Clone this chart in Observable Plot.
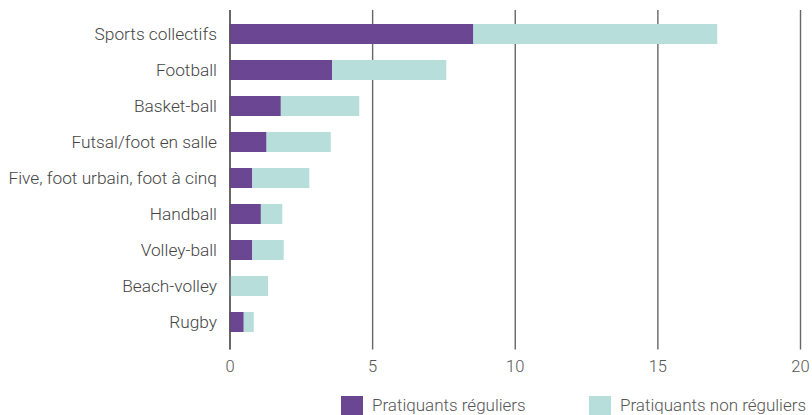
<!DOCTYPE html>
<html>
<head>
<meta charset="utf-8">
<script src="https://cdn.jsdelivr.net/npm/d3@7"></script>
<script src="https://cdn.jsdelivr.net/npm/@observablehq/plot@0.6"></script>
<style>
  body { margin: 0; background: #fff; font-family: Roboto, "Noto Sans", sans-serif; }
  #chart { position: relative; width: 812px; }
  .legend { position: relative; height: 30px; font-size: 17px; font-weight: 300; color: #555; }
  .item { position: absolute; top: 10px; display: flex; align-items: center; }
  .sw { width: 22px; height: 19px; margin-right: 9px; }
</style>
</head>
<body>
<div id="chart"></div>
<script>
const categories = ["Sports collectifs", "Football", "Basket-ball", "Futsal/foot en salle", "Five, foot urbain, foot à cinq", "Handball", "Volley-ball", "Beach-volley", "Rugby"];
const reguliers = [8.55, 3.6, 1.8, 1.3, 0.8, 1.1, 0.8, 0, 0.5];
const nonReguliers = [8.55, 4.0, 2.75, 2.25, 2.0, 0.75, 1.1, 1.35, 0.35];
const seriesNames = ["Pratiquants réguliers", "Pratiquants non réguliers"];
const colors = ["#6b4793", "#b8dedb"];
const xTicks = [0, 5, 10, 15, 20];

const data = [];
categories.forEach((c, i) => {
  data.push({ cat: c, serie: seriesNames[0], v: reguliers[i] });
  data.push({ cat: c, serie: seriesNames[1], v: nonReguliers[i] });
});

const plot = Plot.plot({
  width: 812,
  height: 385,
  marginLeft: 229.5,
  marginRight: 12,
  marginTop: 10,
  marginBottom: 35.5,
  insetTop: 2.7,
  insetBottom: 7,
  style: { fontFamily: "Roboto, 'Noto Sans', sans-serif", background: "#fff", fontWeight: 300 },
  x: { domain: [0, 20], ticks: xTicks },
  y: { domain: categories, paddingInner: 0.45, paddingOuter: 0.225, label: null },
  color: { domain: seriesNames, range: colors },
  marks: [
    Plot.ruleX(xTicks, { stroke: "#666", strokeWidth: 1.4 }),
    Plot.barX(data, Plot.stackX({ y: "cat", x: "v", fill: "serie", order: seriesNames })),
    Plot.ruleX([0], { stroke: "#555", strokeWidth: 1.4 }),
    Plot.ruleY([0], { stroke: "#666", strokeWidth: 1.4, frameAnchor: "bottom" }),
    Plot.axisX({ ticks: xTicks, tickSize: 0, tickPadding: 10.5, fontSize: 16.5, color: "#555", label: null }),
    Plot.axisY({ tickSize: 0, tickPadding: 13, fontSize: 17.3, color: "#444", label: null })
  ]
});
document.getElementById("chart").appendChild(plot);

const legend = document.createElement("div");
legend.className = "legend";
const lefts = [341, 589];
seriesNames.forEach((s, i) => {
  const it = document.createElement("div");
  it.className = "item";
  it.style.left = lefts[i] + "px";
  it.innerHTML = `<div class="sw" style="background:${colors[i]}"></div><span>${s}</span>`;
  legend.appendChild(it);
});
document.getElementById("chart").appendChild(legend);
</script>
</body>
</html>
